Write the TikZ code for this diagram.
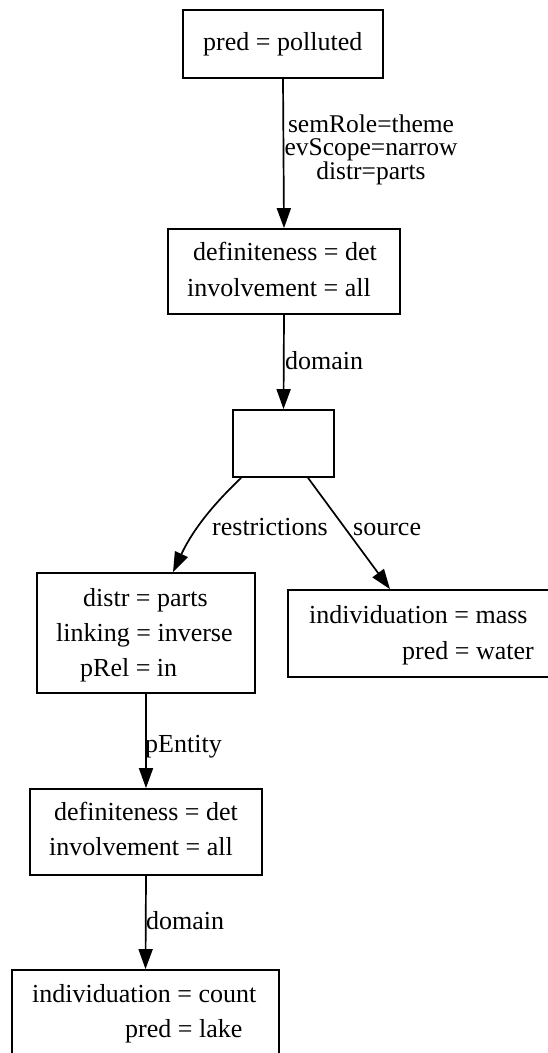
\documentclass[tikz,border=0pt]{standalone}
\usepackage{fontspec}
\setmainfont{Liberation Serif}
\usetikzlibrary{arrows.meta}
\begin{document}
\begin{tikzpicture}[x=1pt,y=-1pt,
  box/.style={draw,line width=1.7pt,inner sep=0pt,minimum width=#1},
  txt/.style={anchor=base west,inner sep=0pt,font=\fontsize{26}{31}\selectfont},
  edge/.style={line width=1.7pt,-{Triangle[length=20pt,width=14pt]}}]
\useasboundingbox (0,0) rectangle (547,1053);

% boxes
\node[box=200pt,minimum height=68pt] (b1) at (283,44) {};
\node[box=232pt,minimum height=85pt] (b2) at (284,271.5) {};
\node[box=101pt,minimum height=67pt] (b3) at (283.5,443.5) {};
\node[box=263pt,minimum height=87pt] (b4) at (419.5,633.5) {};
\node[box=218pt,minimum height=120pt] (b5) at (146,633) {};
\node[box=232pt,minimum height=86pt] (b6) at (146,832) {};
\node[box=267pt,minimum height=86pt] (b7) at (145.5,1013) {};

% box contents
\node[txt] (t1) at (203,50) {pred = polluted};
\node[txt] (t2a) at (193,260) {definiteness = det};
\node[txt] (t2b) at (187,296) {involvement = all};
\node[txt] (t4a) at (309,623) {individuation = mass};
\node[txt] (t4b) at (402,659) {pred = water};
\node[txt] (t5a) at (83,606) {distr = parts};
\node[txt] (t5b) at (56,641) {linking = inverse};
\node[txt] (t5c) at (80,676) {pRel = in};
\node[txt] (t6a) at (54,820) {definiteness = det};
\node[txt] (t6b) at (49,855) {involvement = all};
\node[txt] (t7a) at (32,1002) {individuation = count};
\node[txt] (t7b) at (125,1037) {pred = lake};

% connectors
\draw[edge] (b1.south) -- (b2.north);
\draw[edge] (b2.south) -- (b3.north);
\draw[edge] ([xshift=9pt]b3.south west) .. controls (220,498) and (195,525) .. ([xshift=27pt]b5.north);
\draw[edge] ([xshift=24.5pt]b3.south) -- ([xshift=-29.5pt]b4.north);
\draw[edge] (b5.south) -- (b6.north);
\draw[edge] (b6.south) -- (b7.north);

% connector labels
\node[inner sep=0pt,anchor=north,align=center,
      font=\fontsize{25.5}{23}\selectfont] (l1) at (371,114.6)
      {semRole=theme\\evScope=narrow\\distr=parts};
\node[txt] (l2) at (285,369) {domain};
\node[txt] (l3) at (212,535) {restrictions};
\node[txt] (l4) at (353,535) {source};
\node[txt] (l5) at (145,752) {pEntity};
\node[txt] (l6) at (146,929) {domain};
\end{tikzpicture}
\end{document}
